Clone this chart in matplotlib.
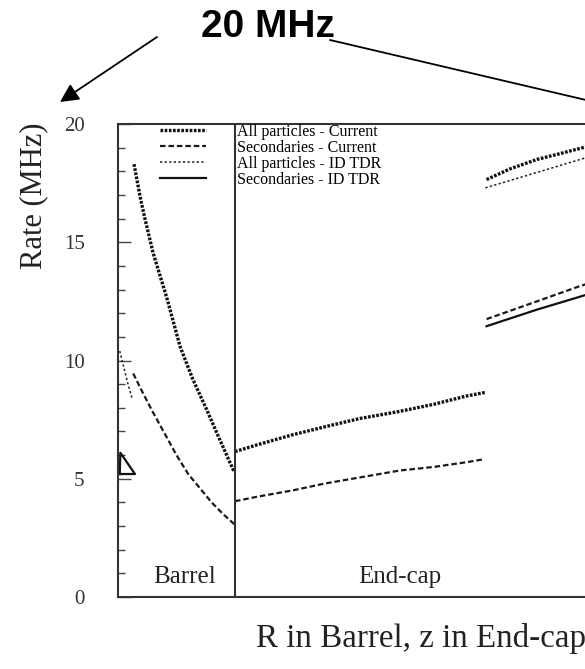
import numpy as np
import matplotlib
matplotlib.use("Agg")
import matplotlib.pyplot as plt
from matplotlib.ticker import MultipleLocator

plt.rcParams['font.family'] = ['Liberation Serif', 'DejaVu Serif']

# x in arbitrary units: barrel 0-10, end-cap from 10 on
# All particles - Current
all_cur_barrel_x = [1.37, 1.9, 2.3, 3.0, 4.2, 5.3, 6.4, 7.6, 8.7, 9.85, 10.0]
all_cur_barrel_y = [18.3, 16.9, 16.0, 14.55, 12.6, 10.6, 9.2, 7.9, 6.65, 5.38, 5.3]
all_cur_endcap_x = [10.0, 12.0, 14.85, 17.7, 20.7, 24.1, 27.0, 29.8, 31.4]
all_cur_endcap_y = [6.15, 6.45, 6.85, 7.2, 7.55, 7.85, 8.15, 8.5, 8.65]
all_cur_far_x = [31.5, 33.5, 35.8, 37.8, 40.5]
all_cur_far_y = [17.65, 18.1, 18.5, 18.75, 19.1]

# Secondaries - Current
sec_cur_barrel_x = [1.3, 2.0, 3.0, 4.0, 5.0, 6.0, 7.0, 8.0, 9.0, 10.0]
sec_cur_barrel_y = [9.45, 8.75, 7.8, 6.9, 6.0, 5.2, 4.6, 4.0, 3.5, 3.05]
sec_cur_endcap_x = [10.0, 12.0, 14.85, 17.7, 24.1, 27.0, 29.8, 31.2]
sec_cur_endcap_y = [4.05, 4.25, 4.5, 4.8, 5.35, 5.5, 5.7, 5.82]
sec_cur_far_x = [31.5, 35.8, 39.5, 40.5]
sec_cur_far_y = [11.75, 12.5, 13.15, 13.3]

# All particles - ID TDR
all_tdr_barrel_x = [0.15, 0.4, 0.8, 1.2]
all_tdr_barrel_y = [10.4, 9.9, 9.1, 8.4]
all_tdr_far_x = [31.4, 35.8, 39.5, 40.5]
all_tdr_far_y = [17.3, 17.95, 18.5, 18.65]

# Secondaries - ID TDR
sec_tdr_barrel_x = [0.15, 0.2, 1.45, 0.15]
sec_tdr_barrel_y = [5.2, 6.1, 5.2, 5.2]
sec_tdr_far_x = [31.5, 35.8, 39.5, 40.5]
sec_tdr_far_y = [11.45, 12.15, 12.7, 12.85]

labels = ['All particles - Current', 'Secondaries - Current',
          'All particles - ID TDR', 'Secondaries - ID TDR']


def join(*segs):
    out = []
    for s in segs:
        out += list(s) + [np.nan]
    return np.array(out[:-1], dtype=float)


fig = plt.figure(figsize=(5.85, 6.69), dpi=100)
ax = fig.add_axes([118 / 585, 72 / 669, 1.0, 473 / 669])

ax.plot(join(all_cur_barrel_x, all_cur_endcap_x, all_cur_far_x),
        join(all_cur_barrel_y, all_cur_endcap_y, all_cur_far_y),
        color='#111111', lw=2.4, ls=(0, (0.8, 0.45)), label=labels[0])
ax.plot(join(sec_cur_barrel_x, sec_cur_endcap_x, sec_cur_far_x),
        join(sec_cur_barrel_y, sec_cur_endcap_y, sec_cur_far_y),
        color='#1a1a1a', lw=1.6, ls=(0, (2.5, 1.3)), label=labels[1])
ax.plot(join(all_tdr_barrel_x, all_tdr_far_x),
        join(all_tdr_barrel_y, all_tdr_far_y),
        color='#222222', lw=1.1, ls=(0, (1.5, 1.5)), label=labels[2])
ax.plot(join(sec_tdr_barrel_x, sec_tdr_far_x),
        join(sec_tdr_barrel_y, sec_tdr_far_y),
        color='#111111', lw=1.6, ls='-', label=labels[3])

ax.set_xlim(0, 50)
ax.set_ylim(0, 20)
ax.axvline(10, color='#333333', lw=1.5)

for sp in ax.spines.values():
    sp.set_color('#333333')
    sp.set_linewidth(1.5)

ax.set_xticks([])
ax.set_yticks([0, 5, 10, 15, 20])
ax.yaxis.set_minor_locator(MultipleLocator(1))
ax.tick_params(axis='y', which='major', direction='in', length=9, width=1,
               pad=24, labelsize=15, color='#444444', labelcolor='#333333')
ax.tick_params(axis='y', which='minor', direction='in', length=5, width=1,
               color='#444444')

ax.set_ylabel('Rate (MHz)', fontsize=22, color='#222222')
ax.yaxis.set_label_coords(-0.12, 0.848)

ax.text(5.7, 0.85, 'Barrel', ha='center', va='center', fontsize=18, color='#222222')
ax.text(24.1, 0.85, 'End-cap', ha='center', va='center', fontsize=18, color='#222222')

ax.legend(loc='upper left', bbox_to_anchor=((160 - 118) / 585, (597 - 124) / 473),
          frameon=False, fontsize=11.5, handlelength=2.9, handletextpad=1.95,
          labelspacing=0.0, borderpad=0, borderaxespad=0)

fig.text(256 / 585, 1 - 638 / 669, 'R in Barrel, z in End-cap', ha='left',
         va='center', fontsize=23.8, color='#222222')

# annotation on top
fig.text(268 / 585, 1 - 27 / 669, '20 MHz', ha='center', va='center',
         fontsize=28, fontweight='bold', family=['Liberation Sans', 'DejaVu Sans'])
ax.annotate('', xy=(60, 669 - 102), xycoords='figure pixels',
            xytext=(157, 669 - 37), textcoords='figure pixels',
            arrowprops=dict(arrowstyle='-|>', mutation_scale=28, lw=1.3,
                            color='black', shrinkA=0, shrinkB=0),
            annotation_clip=False)
ax.annotate('', xy=(650, 669 - 115), xycoords='figure pixels',
            xytext=(330, 669 - 40), textcoords='figure pixels',
            arrowprops=dict(arrowstyle='-|>', mutation_scale=28, lw=1.3,
                            color='black', shrinkA=0, shrinkB=0),
            annotation_clip=False)

fig.savefig('out.png', dpi=100)
